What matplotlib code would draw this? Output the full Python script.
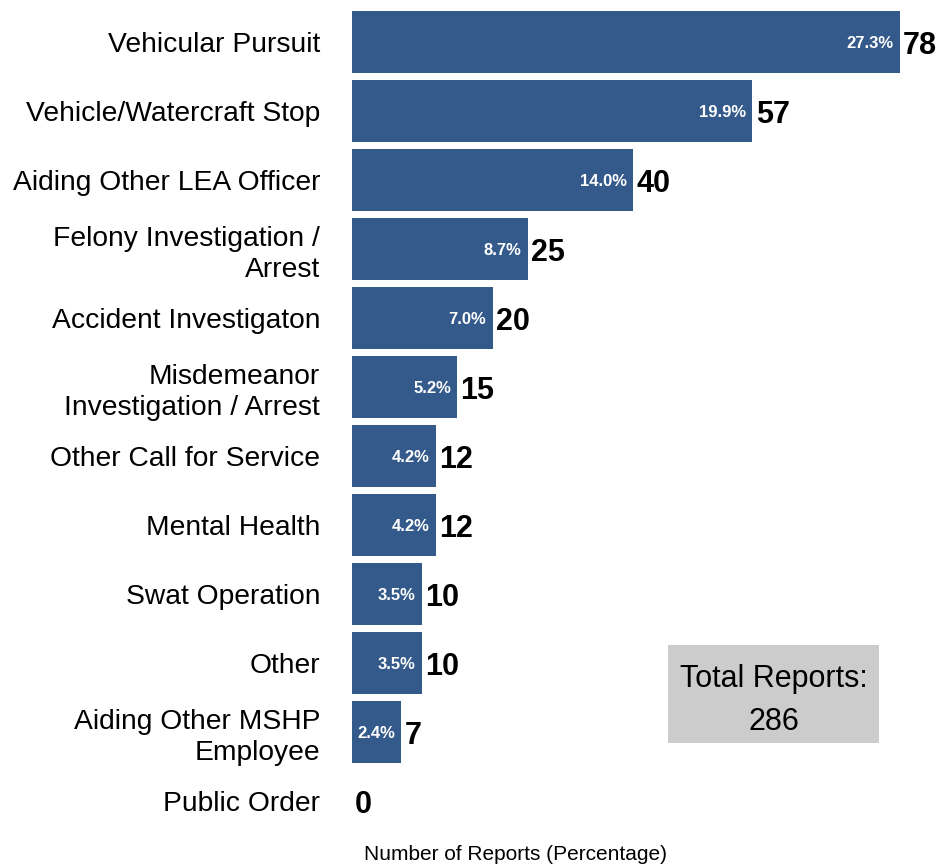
import matplotlib
matplotlib.use("Agg")
import matplotlib.pyplot as plt

plt.rcParams['font.family'] = ['Liberation Sans', 'DejaVu Sans']

categories = [
    "Vehicular Pursuit",
    "Vehicle/Watercraft Stop",
    "Aiding Other LEA Officer",
    "Felony Investigation /\nArrest",
    "Accident Investigaton",
    "Misdemeanor\nInvestigation / Arrest",
    "Other Call for Service",
    "Mental Health",
    "Swat Operation",
    "Other",
    "Aiding Other MSHP\nEmployee",
    "Public Order",
]
counts = [78, 57, 40, 25, 20, 15, 12, 12, 10, 10, 7, 0]
total_reports = 286

bar_color = "#335a8a"

fig = plt.figure(figsize=(9.42, 8.67), dpi=100)
ax = fig.add_axes([352 / 942, 1 - 835.5 / 867, (940 - 352) / 942, 828 / 867])

y = list(range(len(categories)))
ax.barh(y, counts, height=0.91, color=bar_color)
ax.set_ylim(len(categories) - 0.5, -0.5)
ax.set_xlim(0, (940 - 352) / (548 / 78))

ax.set_yticks(y)
ax.set_yticklabels(categories, fontsize=20.3, linespacing=1.25)
ax.tick_params(axis='y', length=0, pad=23)
ax.set_xticks([])
for s in ax.spines.values():
    s.set_visible(False)

for yi, c in zip(y, counts):
    ax.text(c + 0.45, yi, f"{c}", va='center_baseline', ha='left',
            fontsize=22, fontweight='bold', color='black')
    if c > 0:
        pct = c / total_reports * 100
        ax.text(c - 0.9, yi, f"{pct:.1f}%", va='center_baseline', ha='right',
                fontsize=12, fontweight='bold', color='white')

fig.text(515 / 942, 1 - 855 / 867, "Number of Reports (Percentage)",
         ha='center', va='center', fontsize=15)

# summary box
box_l, box_r, box_t, box_b = 668, 879, 645, 743
fig.patches.append(plt.Rectangle((box_l / 942, 1 - box_b / 867),
                                 (box_r - box_l) / 942, (box_b - box_t) / 867,
                                 transform=fig.transFigure, facecolor="#cccccc",
                                 edgecolor='none', zorder=0))
fig.text((box_l + box_r) / 2 / 942, 1 - 679 / 867, "Total Reports:",
         ha='center', va='center', fontsize=22)
fig.text((box_l + box_r) / 2 / 942, 1 - 722 / 867, f"{total_reports}",
         ha='center', va='center', fontsize=22)

fig.savefig("out.png", dpi=100)
